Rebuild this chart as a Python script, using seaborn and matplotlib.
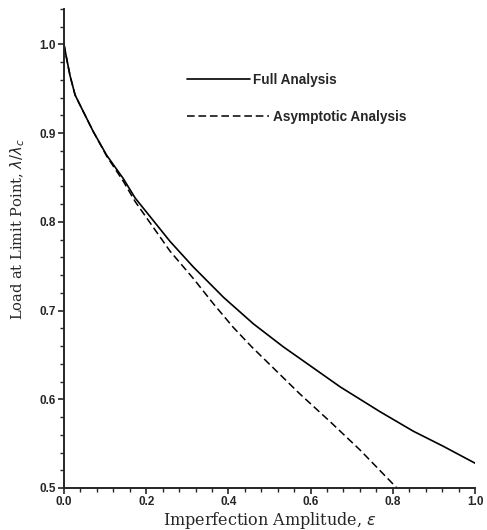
import matplotlib
matplotlib.use("Agg")
import matplotlib.pyplot as plt
import seaborn as sns
import numpy as np
from matplotlib.ticker import MultipleLocator

# ---- data ----
eps_full = [0.0, 0.0065, 0.0146, 0.027, 0.043, 0.071, 0.104, 0.144, 0.173, 0.258,
            0.315, 0.388, 0.461, 0.534, 0.574, 0.672, 0.769, 0.850, 0.923, 1.0]
lam_full = [1.0, 0.984, 0.965, 0.943, 0.928, 0.902, 0.875, 0.849, 0.827, 0.778,
            0.749, 0.715, 0.685, 0.659, 0.646, 0.614, 0.586, 0.564, 0.547, 0.528]

eps_asym = [0.0, 0.0065, 0.0146, 0.027, 0.043, 0.071, 0.104, 0.144, 0.173, 0.258,
            0.315, 0.363, 0.412, 0.457, 0.574, 0.647, 0.720, 0.81]
lam_asym = [1.0, 0.984, 0.965, 0.943, 0.928, 0.902, 0.874, 0.846, 0.823, 0.767,
            0.736, 0.708, 0.681, 0.659, 0.606, 0.575, 0.543, 0.5]

series_labels = ["Full Analysis", "Asymptotic Analysis"]
x_label = "Imperfection Amplitude, $\\varepsilon$"
y_label = "Load at Limit Point, $\\lambda/\\lambda_c$"

sns.set_style("ticks")
plt.rcParams["font.family"] = ["DejaVu Serif"]

fig = plt.figure(figsize=(4.87, 5.30), dpi=100)
ax = fig.add_axes([64 / 487, 42 / 530, 411 / 487, (488 - 9) / 530])

sns.lineplot(x=eps_full, y=lam_full, ax=ax, color="black", linewidth=1.2,
             sort=False, estimator=None)
sns.lineplot(x=eps_asym, y=lam_asym, ax=ax, color="black", linewidth=1.1,
             sort=False, estimator=None, linestyle=(0, (5, 2.5)))

ax.set_xlim(0, 1.0)
ax.set_ylim(0.5, 1.04)
ax.xaxis.set_major_locator(MultipleLocator(0.2))
ax.xaxis.set_minor_locator(MultipleLocator(0.04))
ax.yaxis.set_major_locator(MultipleLocator(0.1))
ax.yaxis.set_minor_locator(MultipleLocator(0.02))
ax.set_yticks([0.5, 0.6, 0.7, 0.8, 0.9, 1.0])

for s in ["top", "right"]:
    ax.spines[s].set_visible(False)
for s in ["left", "bottom"]:
    ax.spines[s].set_linewidth(1.4)

ax.tick_params(which="major", direction="out", length=4.5, width=1.2,
               labelsize=8.5, pad=1.5)
ax.tick_params(which="minor", direction="out", length=3, width=1.0)
for lab in ax.get_xticklabels() + ax.get_yticklabels():
    lab.set_fontfamily("Liberation Sans")
    lab.set_fontweight("bold")

ax.set_xlabel(x_label, fontsize=11.5)
ax.set_ylabel(y_label, fontsize=10.5)
ax.xaxis.set_label_coords(0.5, -(510 - 488) / 479)
ax.yaxis.set_label_coords(-0.09, 0.54)

h_full, h_asym = ax.lines[0], ax.lines[1]
leg_font = {"family": "Liberation Sans", "weight": "bold", "size": 9.8}
leg1 = ax.legend([h_full], [series_labels[0]], loc="center left",
                 bbox_to_anchor=(187 / 487, 1 - 80 / 530),
                 bbox_transform=fig.transFigure, frameon=False,
                 handlelength=4.6, handletextpad=0.25, borderpad=0,
                 borderaxespad=0, prop=leg_font)
ax.add_artist(leg1)
ax.legend([h_asym], [series_labels[1]], loc="center left",
          bbox_to_anchor=(187 / 487, 1 - 117 / 530),
          bbox_transform=fig.transFigure, frameon=False,
          handlelength=6.0, handletextpad=0.35, borderpad=0,
          borderaxespad=0, prop=leg_font)

fig.savefig("out.png", dpi=100)
